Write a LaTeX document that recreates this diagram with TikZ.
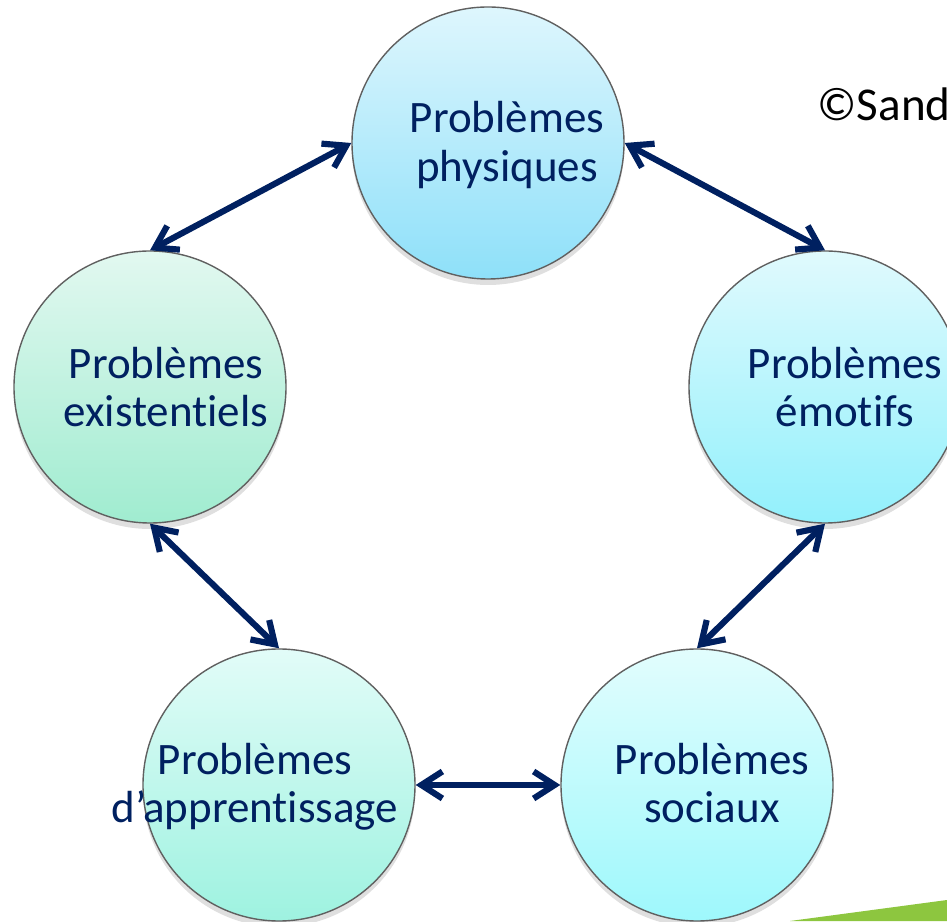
\documentclass[tikz,border=0pt]{standalone}
\usepackage{fontspec}
\setmainfont{Carlito}[Ligatures=NoCommon]
\usepackage{xcolor}
\usepackage{tikz}
\usetikzlibrary{arrows.meta, shadows}

\definecolor{navy}{RGB}{0,32,96}
\definecolor{swoosh}{RGB}{141,198,63}

\begin{document}
\begin{tikzpicture}[
    bubble/.style={circle, draw=gray!75!black, line width=0.4pt, minimum size=2.72cm, inner sep=0pt,
        drop shadow={shadow xshift=0pt, shadow yshift=-0.6mm, opacity=0.25}},
    txt/.style={align=center, text=navy, inner sep=0pt, font=\fontsize{12.8}{13.7}\selectfont},
    link/.style={{Straight Barb[length=2.1mm, width=2.7mm]}-{Straight Barb[length=2.1mm, width=2.7mm]},
        draw=navy, line width=1.75pt, line cap=round, line join=round}]
    \useasboundingbox (0,0) rectangle (9.47,9.21);
    \clip (0,0) rectangle (9.47,9.21);

    \node[bubble, top color={rgb,255:red,222;green,246;blue,253}, bottom color={rgb,255:red,142;green,224;blue,249}] (phys) at (4.88,7.78) {};
    \node[bubble, top color={rgb,255:red,224;green,250;blue,253}, bottom color={rgb,255:red,146;green,240;blue,252}] (emot) at (8.25,5.34) {};
    \node[bubble, top color={rgb,255:red,226;green,253;blue,253}, bottom color={rgb,255:red,158;green,248;blue,252}] (soc) at (6.97,1.36) {};
    \node[bubble, top color={rgb,255:red,226;green,252;blue,248}, bottom color={rgb,255:red,158;green,242;blue,224}] (app) at (2.79,1.36) {};
    \node[bubble, top color={rgb,255:red,226;green,248;blue,240}, bottom color={rgb,255:red,160;green,236;blue,208}] (exist) at (1.50,5.34) {};

    \node[txt] (physT) at (5.07,7.76) {Problèmes\\physiques};
    \node[txt] (emotT) at (8.45,5.34) {Problèmes\\émotifs};
    \node[txt] (socT) at (7.12,1.38) {Problèmes\\sociaux};
    \node[txt] (appT) at (2.55,1.34) {Problèmes\\d’apprentissage};
    \node[txt] (existT) at (1.66,5.34) {Problèmes\\existentiels};

    \draw[link] (phys.west) -- (exist.north);
    \draw[link] (phys.east) -- (emot.north);
    \draw[link] (emot.south) -- (soc.north);
    \draw[link] (soc.west) -- (app.east);
    \draw[link] (app.north) -- (exist.south);

    \node[anchor=base west, inner sep=0pt, font=\fontsize{13.4}{16}\selectfont] (copy) at (8.17,8.00) {©Sand};
    \fill[swoosh] (7.90,0) -- (9.47,0.21) -- (9.47,0) -- cycle;
\end{tikzpicture}
\end{document}
